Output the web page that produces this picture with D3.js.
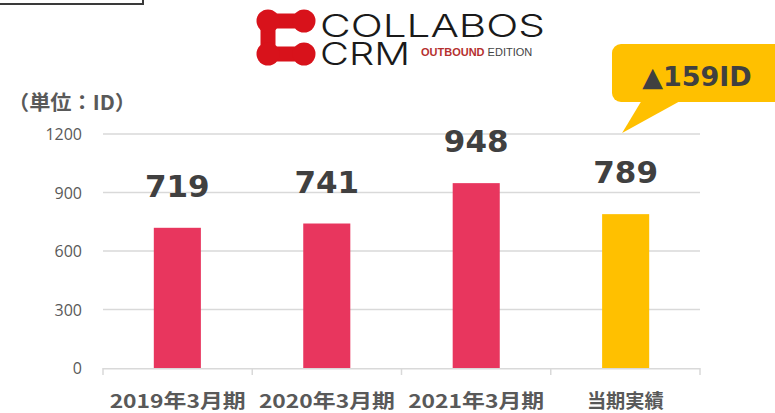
<!DOCTYPE html>
<html>
<head>
<meta charset="utf-8">
<script src="https://cdn.jsdelivr.net/npm/d3@7"></script>
<style>
  body { margin: 0; background: #fff; }
  svg { display: block; }
</style>
</head>
<body>
<script>
// data
var categories = ["2019年3月期", "2020年3月期", "2021年3月期", "当期実績"];
var values = [719, 741, 948, 789];
var barColors = ["#E8365E", "#E8365E", "#E8365E", "#FFC000"];
var yTicks = [0, 300, 600, 900, 1200];
var diffLabel = "▲159ID";
var unitLabel = "（単位：ID）";

var W = 775, H = 413;
var svg = d3.select("body").append("svg")
  .attr("width", W)
  .attr("height", H);

var plotLeft = 103, plotRight = 700, plotTop = 134, plotBottom = 368;

var x = d3.scaleBand().domain(categories).range([plotLeft, plotRight]).paddingInner(0.685).paddingOuter(0.34);
var xBand = d3.scaleBand().domain(categories).range([plotLeft, plotRight]);
var y = d3.scaleLinear().domain([0, 1200]).range([plotBottom, plotTop]);

// top-left box fragment
svg.append("rect")
  .attr("x", -4).attr("y", -10)
  .attr("width", 147).attr("height", 14)
  .attr("fill", "none")
  .attr("stroke", "#3a3a3a")
  .attr("stroke-width", 2);

// logo
var logo = svg.append("g").attr("class", "logo");
var red = "#D8121B";
logo.append("path")
  .attr("d", "M304,21 L268,21 L268,54 L304,54")
  .attr("fill", "none")
  .attr("stroke", red)
  .attr("stroke-width", 15)
  .attr("stroke-linejoin", "round");
[[268,21],[304,21],[268,54],[304,54]].forEach(function(p){
  logo.append("circle").attr("cx", p[0]).attr("cy", p[1]).attr("r", 11.5).attr("fill", red);
});
logo.append("text")
  .attr("x", 320).attr("y", 37)
  .attr("font-family", "Inter, 'DejaVu Sans', sans-serif")
  .attr("font-weight", 300)
  .attr("font-size", 31)
  .attr("textLength", 225)
  .attr("lengthAdjust", "spacingAndGlyphs")
  .attr("fill", "#1a1a1a")
  .text("COLLABOS");
logo.append("text")
  .attr("x", 320).attr("y", 65)
  .attr("font-family", "Inter, 'DejaVu Sans', sans-serif")
  .attr("font-weight", 300)
  .attr("font-size", 31)
  .attr("textLength", 90)
  .attr("lengthAdjust", "spacingAndGlyphs")
  .attr("fill", "#1a1a1a")
  .text("CRM");
logo.append("text")
  .attr("x", 421).attr("y", 56)
  .attr("font-family", "Arial, 'Liberation Sans', sans-serif")
  .attr("font-weight", "bold")
  .attr("font-size", 11)
  .attr("fill", "#B5302F")
  .text("OUTBOUND")
  .append("tspan")
  .attr("fill", "#444")
  .attr("font-weight", "normal")
  .text(" EDITION");

// gridlines
svg.append("g").selectAll("line")
  .data(yTicks.filter(function(d){ return d > 0; }))
  .join("line")
  .attr("x1", plotLeft).attr("x2", plotRight)
  .attr("y1", function(d){ return y(d); })
  .attr("y2", function(d){ return y(d); })
  .attr("stroke", "#D9D9D9")
  .attr("stroke-width", 1.5);

// y axis labels
svg.append("g").selectAll("text")
  .data(yTicks)
  .join("text")
  .attr("x", 82)
  .attr("y", function(d){ return y(d) + 6; })
  .attr("text-anchor", "end")
  .attr("font-family", "'Open Sans', 'DejaVu Sans', sans-serif")
  .attr("font-size", 16)
  .attr("fill", "#595959")
  .text(function(d){ return d; });

svg.append("text")
  .attr("x", 8).attr("y", 110)
  .attr("font-family", "'Noto Sans CJK JP', sans-serif")
  .attr("font-weight", "bold")
  .attr("font-size", 20)
  .attr("textLength", 128)
  .attr("lengthAdjust", "spacingAndGlyphs")
  .attr("fill", "#595959")
  .text(unitLabel);

// bars
svg.append("g").selectAll("rect")
  .data(values)
  .join("rect")
  .attr("x", function(d, i){ return x(categories[i]); })
  .attr("y", function(d){ return y(d); })
  .attr("width", x.bandwidth())
  .attr("height", function(d){ return y(0) - y(d); })
  .attr("fill", function(d, i){ return barColors[i]; });

// x axis line + ticks
var xAxis = svg.append("g");
xAxis.append("line")
  .attr("x1", plotLeft).attr("x2", plotRight)
  .attr("y1", plotBottom + 0.75).attr("y2", plotBottom + 0.75)
  .attr("stroke", "#D9D9D9").attr("stroke-width", 1.5);
xAxis.selectAll("line.tk")
  .data(categories.concat(["end"]))
  .join("line")
  .attr("class", "tk")
  .attr("x1", function(d){ return d === "end" ? plotRight : xBand(d); })
  .attr("x2", function(d){ return d === "end" ? plotRight : xBand(d); })
  .attr("y1", plotBottom).attr("y2", plotBottom + 7)
  .attr("stroke", "#D9D9D9").attr("stroke-width", 1.5);

xAxis.selectAll("text")
  .data(categories)
  .join("text")
  .attr("x", function(d){ return xBand(d) + xBand.bandwidth() / 2; })
  .attr("y", 408)
  .attr("text-anchor", "middle")
  .attr("font-family", "'Noto Sans CJK JP', sans-serif")
  .attr("font-weight", "bold")
  .attr("font-size", 19)
  .attr("textLength", function(d){ return d.length > 4 ? 136 : 77; })
  .attr("lengthAdjust", "spacingAndGlyphs")
  .attr("fill", "#595959")
  .text(function(d){ return d; });

// value labels
svg.append("g").selectAll("text")
  .data(values)
  .join("text")
  .attr("x", function(d, i){ return x(categories[i]) + x.bandwidth() / 2; })
  .attr("y", function(d){ return y(d) - 31; })
  .attr("text-anchor", "middle")
  .attr("font-family", "'DejaVu Sans', Verdana, sans-serif")
  .attr("font-weight", "bold")
  .attr("font-size", 31)
  .attr("fill", "#404040")
  .text(function(d){ return d; });

// callout
var co = svg.append("g");
co.append("rect")
  .attr("x", 612).attr("y", 44)
  .attr("width", 180).attr("height", 58)
  .attr("rx", 9)
  .attr("fill", "#FFC000");
co.append("path")
  .attr("d", "M642,100 L682,100 L" + (x(categories[3]) + 20) + "," + (y(1200) - 1) + " Z")
  .attr("fill", "#FFC000");
co.append("text")
  .attr("x", 697).attr("y", 86)
  .attr("text-anchor", "middle")
  .attr("font-family", "'DejaVu Sans', Verdana, sans-serif")
  .attr("font-weight", "bold")
  .attr("font-size", 27)
  .attr("fill", "#404040")
  .text(diffLabel);
</script>
</body>
</html>
